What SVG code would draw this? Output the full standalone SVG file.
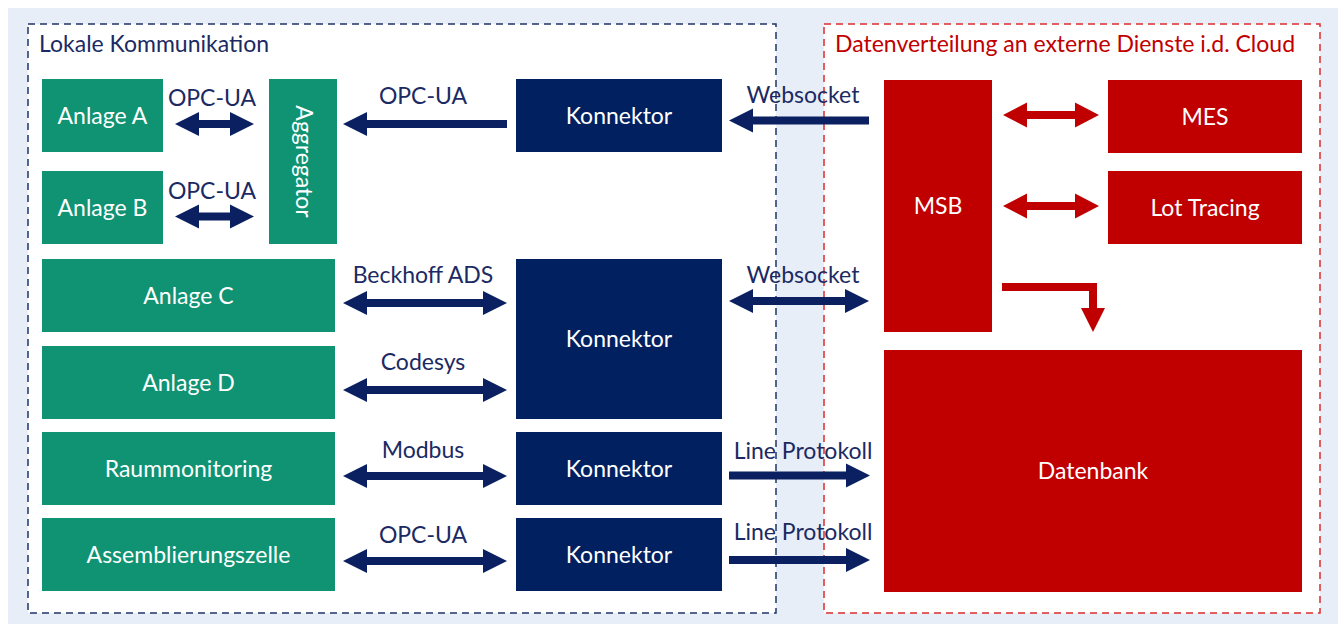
<svg xmlns="http://www.w3.org/2000/svg" width="1338" height="624" viewBox="0 0 1338 624">
<style>
  .t{font-family:Lato,"Open Sans","Liberation Sans",sans-serif;font-size:23px}
  .nt{fill:#ffffff;text-anchor:middle}
  .lb{fill:#1b2a63;text-anchor:middle}
  .green{fill:#0f9373}
  .navy{fill:#002060}
  .red{fill:#c00000}
  .ar{fill:#0a2060}
  .rar{fill:#c00000}
</style>
<rect x="8" y="8" width="1330" height="616" fill="#e8eef8"/>
<g id="zone-local">
  <rect x="28" y="24" width="748" height="589" fill="#ffffff" stroke="#1f3668" stroke-width="1.5" stroke-dasharray="7,5"/>
  <text class="t" x="39" y="52" fill="#1b2a63">Lokale Kommunikation</text>
</g>
<g id="zone-cloud">
  <rect x="824" y="24" width="496" height="589" fill="#ffffff" stroke="#dc2c2c" stroke-width="1.5" stroke-dasharray="7,5"/>
  <text class="t" x="835" y="52" fill="#c00000">Datenverteilung an externe Dienste i.d. Cloud</text>
</g>
<g id="anlage-a"><rect class="green" x="42" y="79" width="121" height="73"/><text class="t nt" x="102.5" y="124">Anlage A</text></g>
<g id="anlage-b"><rect class="green" x="42" y="171" width="121" height="73"/><text class="t nt" x="102.5" y="216">Anlage B</text></g>
<g id="aggregator"><rect class="green" x="269" y="79" width="68" height="165"/><text class="t nt" transform="translate(303,161.5) rotate(90)" x="0" y="7">Aggregator</text></g>
<g id="anlage-c"><rect class="green" x="42" y="259" width="293" height="73"/><text class="t nt" x="188.5" y="304">Anlage C</text></g>
<g id="anlage-d"><rect class="green" x="42" y="346" width="293" height="73"/><text class="t nt" x="188.5" y="391">Anlage D</text></g>
<g id="raummonitoring"><rect class="green" x="42" y="432" width="293" height="73"/><text class="t nt" x="188.5" y="477">Raummonitoring</text></g>
<g id="assemblierungszelle"><rect class="green" x="42" y="518" width="293" height="73"/><text class="t nt" x="188.5" y="563">Assemblierungszelle</text></g>
<g id="konnektor-1"><rect class="navy" x="516" y="79" width="206" height="73"/><text class="t nt" x="619" y="124">Konnektor</text></g>
<g id="konnektor-2"><rect class="navy" x="516" y="259" width="206" height="160"/><text class="t nt" x="619" y="347">Konnektor</text></g>
<g id="konnektor-3"><rect class="navy" x="516" y="432" width="206" height="73"/><text class="t nt" x="619" y="477">Konnektor</text></g>
<g id="konnektor-4"><rect class="navy" x="516" y="518" width="206" height="73"/><text class="t nt" x="619" y="563">Konnektor</text></g>
<g id="msb"><rect class="red" x="884" y="80" width="108" height="252"/><text class="t nt" x="938" y="214">MSB</text></g>
<g id="mes"><rect class="red" x="1108" y="80" width="194" height="73"/><text class="t nt" x="1205" y="124.5">MES</text></g>
<g id="lot-tracing"><rect class="red" x="1108" y="171" width="194" height="73"/><text class="t nt" x="1205" y="216">Lot Tracing</text></g>
<g id="datenbank"><rect class="red" x="884" y="350" width="418" height="242"/><text class="t nt" x="1093" y="479">Datenbank</text></g>
<g id="connectors">
  <polygon class="ar" points="175,124 199,112 199,120 230,120 230,112 254,124 230,136 230,128 199,128 199,136"/>
  <text class="t lb" x="212" y="106">OPC-UA</text>
  <polygon class="ar" points="175,216.5 199,204.5 199,212.5 230,212.5 230,204.5 254,216.5 230,228.5 230,220.5 199,220.5 199,228.5"/>
  <text class="t lb" x="212" y="199">OPC-UA</text>
  <polygon class="ar" points="343,124 367,112 367,120 507,120 507,128 367,128 367,136"/>
  <text class="t lb" x="423" y="104">OPC-UA</text>
  <polygon class="ar" points="729,120.5 753,108.5 753,116.5 869,116.5 869,124.5 753,124.5 753,132.5"/>
  <text class="t lb" x="803" y="103">Websocket</text>
  <polygon class="ar" points="343,303 367,291 367,299 483,299 483,291 507,303 483,315 483,307 367,307 367,315"/>
  <text class="t lb" x="423" y="283">Beckhoff ADS</text>
  <polygon class="ar" points="343,390 367,378 367,386 483,386 483,378 507,390 483,402 483,394 367,394 367,402"/>
  <text class="t lb" x="423" y="370">Codesys</text>
  <polygon class="ar" points="343,476 367,464 367,472 483,472 483,464 507,476 483,488 483,480 367,480 367,488"/>
  <text class="t lb" x="423" y="458">Modbus</text>
  <polygon class="ar" points="343,561 367,549 367,557 483,557 483,549 507,561 483,573 483,565 367,565 367,573"/>
  <text class="t lb" x="423" y="543">OPC-UA</text>
  <polygon class="ar" points="729,301 753,289 753,297 845,297 845,289 869,301 845,313 845,305 753,305 753,313"/>
  <text class="t lb" x="803" y="283">Websocket</text>
  <polygon class="ar" points="729,471.5 846,471.5 846,463.5 870,475.5 846,487.5 846,479.5 729,479.5"/>
  <text class="t lb" x="803" y="459">Line Protokoll</text>
  <polygon class="ar" points="729,556 846,556 846,548 870,560 846,572 846,564 729,564"/>
  <text class="t lb" x="803" y="540">Line Protokoll</text>
  <polygon class="rar" points="1003,115 1027,102.5 1027,111 1075,111 1075,102.5 1099,115 1075,127.5 1075,119 1027,119 1027,127.5"/>
  <polygon class="rar" points="1003,206 1027,193.5 1027,202 1075,202 1075,193.5 1099,206 1075,218.5 1075,210 1027,210 1027,218.5"/>
  <polygon class="rar" points="1002,283 1097,283 1097,308 1105,308 1093,332 1081,308 1089,308 1089,291 1002,291"/>
</g>
</svg>
